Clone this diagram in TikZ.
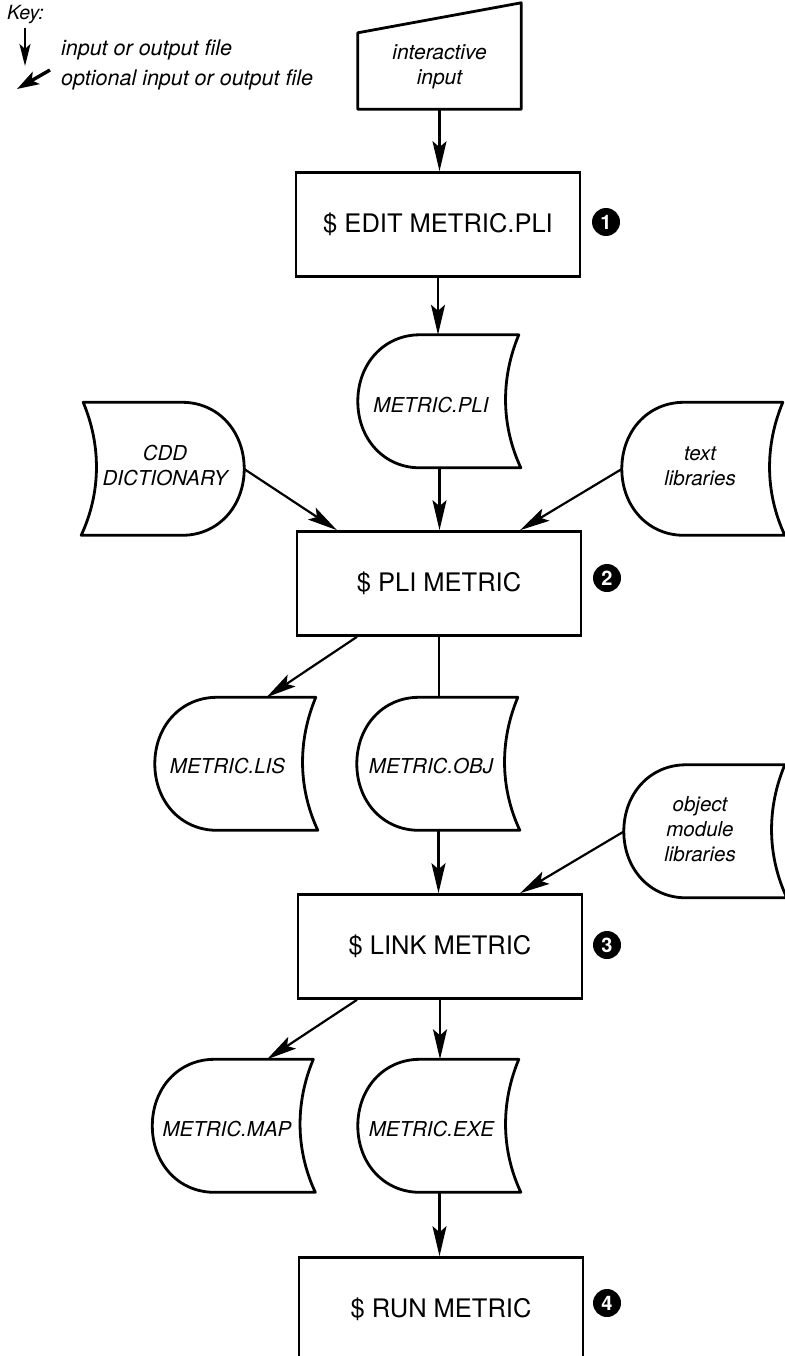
\documentclass[tikz,border=0pt]{standalone}
\usepackage{fontspec}
\setmainfont{TeX Gyre Heros}
\usetikzlibrary{arrows.meta,calc}

\tikzset{
  stepbox/.style={draw, line width=2.6pt, minimum width=284pt, minimum height=104pt,
    inner sep=0pt, font=\fontsize{25.5}{30}\selectfont},
  filebox/.style={minimum width=163pt, minimum height=133pt, inner sep=0pt},
  flabel/.style={font=\fontsize{20.5}{25}\selectfont\itshape, align=center, inner sep=0pt},
  outline/.style={line width=2.8pt, line join=round},
  flow/.style={line width=2.2pt, -{Stealth[length=30pt,width=14pt,inset=6pt]}},
  plain/.style={line width=2.2pt},
  stepnum/.style={circle, fill=black, minimum size=28pt, inner sep=0pt, text=white,
    font=\fontsize{20}{20}\selectfont\bfseries},
  keytext/.style={font=\fontsize{21.5}{25}\selectfont\itshape, anchor=west, inner sep=0pt},
}

% file symbol: rounded on the left, hollow curve on the right
\newcommand\fileroundleft[1]{%
  \begin{scope}[shift={(#1.north west)}]
    \draw[outline] (62,0) -- (161,0) .. controls (143,43) and (143,90) .. (163,133)
      -- (62,133) .. controls (26,133) and (0,104) .. (0,66.5)
      .. controls (0,29) and (26,0) .. (62,0) -- cycle;
  \end{scope}}
% the same symbol, mirrored
\newcommand\fileroundright[1]{%
  \begin{scope}[shift={(#1.north east)}, xscale=-1]
    \draw[outline] (62,0) -- (161,0) .. controls (143,43) and (143,90) .. (163,133)
      -- (62,133) .. controls (26,133) and (0,104) .. (0,66.5)
      .. controls (0,29) and (26,0) .. (62,0) -- cycle;
  \end{scope}}

\begin{document}
\begin{tikzpicture}[x=1pt, y=-1pt]
\useasboundingbox (0,0) rectangle (784,1356);

% key
\node[keytext, font=\fontsize{19.5}{22}\selectfont\itshape] (key) at (7,15) {Key:};
\coordinate (ka1) at (25,28);
\coordinate (ka2) at (25,66);
\draw[line width=2.4pt, -{Stealth[length=22pt,width=11pt,inset=5pt]}] (ka1) -- (ka2);
\coordinate (kb1) at (50,70);
\coordinate (kb2) at (17,89);
\draw[line width=3.4pt, -{Stealth[length=22pt,width=14pt,inset=5pt]}] (kb1) -- (kb2);
\node[keytext] (k1) at (61,50) {input or output file};
\node[keytext] (k2) at (61,80) {optional input or output file};

% interactive input (manual input symbol)
\node[minimum width=163pt, minimum height=106pt, inner sep=0pt,
  label={[flabel, font=\fontsize{21}{25}\selectfont\itshape, yshift=-11pt]center:interactive\\input}]
  (inp) at (439.5,56) {};
\draw[outline] (inp.south west) -- (inp.south east) -- (inp.north east)
  -- ($(inp.north west)+(0,30)$) -- cycle;

% command steps
\node[stepbox] (edit) at (438,224.5) {\$ EDIT METRIC.PLI};
\node[stepbox] (plibox) at (439,583.5) {\$ PLI METRIC};
\node[stepbox] (linkbox) at (440,946.5) {\$ LINK METRIC};
\node[stepbox] (runbox) at (441,1309.5) {\$ RUN METRIC};

\node[stepnum] (n1) at (606,222) {1};
\node[stepnum] (n2) at (607,578) {2};
\node[stepnum] (n3) at (607,945) {3};
\node[stepnum] (n4) at (607,1303) {4};

% files
\node[filebox, label={[flabel, xshift=-8.5pt, yshift=-4pt]center:METRIC.PLI}] (pli) at (439.5,401.5) {};
\node[filebox, label={[flabel, xshift=2.5pt, yshift=3pt]center:CDD\\DICTIONARY}] (cdd) at (162.5,469) {};
\node[filebox, label={[flabel, xshift=-3.5pt, yshift=3pt]center:text\\libraries}] (txtlib) at (703.5,469) {};
\node[filebox, label={[flabel, xshift=-9pt, yshift=-2pt]center:METRIC.LIS}] (lis) at (236.5,764) {};
\node[filebox, label={[flabel, xshift=-7.5pt, yshift=-2pt]center:METRIC.OBJ}] (obj) at (438.5,764) {};
\node[filebox, label={[flabel, xshift=-5.5pt, yshift=2.5pt]center:object\\module\\libraries}] (objlib) at (705.5,831.5) {};
\node[filebox, label={[flabel, xshift=-7pt, yshift=-3pt]center:METRIC.MAP}] (map) at (234,1126) {};
\node[filebox, label={[flabel, xshift=-8pt, yshift=-3pt]center:METRIC.EXE}] (exe) at (439.5,1126) {};

\fileroundleft{pli}
\fileroundright{cdd}
\fileroundleft{txtlib}
\fileroundleft{lis}
\fileroundleft{obj}
\fileroundleft{objlib}
\fileroundleft{map}
\fileroundleft{exe}

% connectors
\draw[flow] (inp.south) -- (inp.south |- edit.north);
\draw[flow] (edit.south) -- (edit.south |- pli.north);
\draw[flow] (pli.south) -- (pli.south |- plibox.north);
\draw[flow] (cdd.east) -- ($(plibox.north)+(-102,0)$);
\draw[flow] (txtlib.west) -- ($(plibox.north)+(81,0)$);
\draw[flow] ($(plibox.south)+(-82,0)$) -- ($(lis.north)+(30,0)$);
\draw[plain] (plibox.south) -- (plibox.south |- obj.north);
\draw[flow] (obj.south) -- (obj.south |- linkbox.north);
\draw[flow] (objlib.west) -- ($(linkbox.north)+(80,0)$);
\draw[flow] ($(linkbox.south)+(-83,0)$) -- ($(map.north)+(33,0)$);
\draw[flow] (linkbox.south) -- (linkbox.south |- exe.north);
\draw[flow] (exe.south) -- (exe.south |- runbox.north);
\end{tikzpicture}
\end{document}
